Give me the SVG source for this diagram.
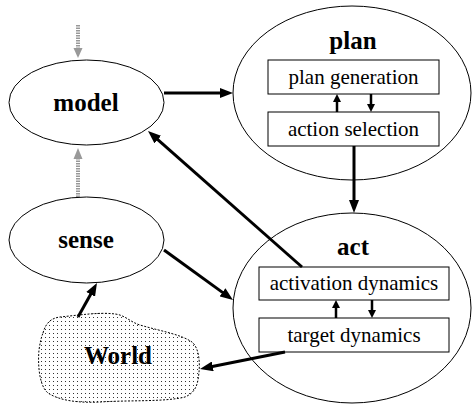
<svg xmlns="http://www.w3.org/2000/svg" width="474" height="407" viewBox="0 0 474 407">
<style>
.node{fill:#fff;stroke:#000;stroke-width:1}
.box{fill:#fff;stroke:#000;stroke-width:1}
.title{font-weight:bold;font-size:25px;text-anchor:middle;fill:#000}
.lbl{font-size:21px;text-anchor:middle;fill:#000}
.big{stroke:#000;stroke-width:3;fill:none;marker-end:url(#ah)}
.small{stroke:#000;stroke-width:2.5;fill:none;marker-end:url(#sh)}
.gray{stroke:#999;stroke-width:4;stroke-dasharray:1.5 1;fill:none}
</style>
<defs>
<marker id="ah" markerUnits="userSpaceOnUse" markerWidth="14" markerHeight="10" refX="3" refY="5" orient="auto">
<path d="M0,0 L13,5 L0,10 z" fill="#000"/>
</marker>
<marker id="sh" markerUnits="userSpaceOnUse" markerWidth="10" markerHeight="9" refX="2" refY="4" orient="auto">
<path d="M0,0 L8,4 L0,8 z" fill="#000"/>
</marker>
<pattern id="dots" width="4" height="4" patternUnits="userSpaceOnUse">
<rect width="4" height="4" fill="#fff"/>
<rect x="1" y="1" width="1" height="1" fill="#333"/>
</pattern>
</defs>
<g font-family="'Liberation Serif', 'Times New Roman', 'DejaVu Serif', serif">
<g id="world">
<path d="M43,333 C46,322 52,318 60,317 C80,315 100,312 115,314 C125,315 130,322 140,325 C160,331 180,334 192,342 C199,348 200,362 199,372 C198,382 197,392 185,397 C165,402 130,400 100,402 C80,403 60,401 48,393 C38,385 38,360 39,350 C40,343 41,338 43,333 Z" fill="url(#dots)" stroke="#000" stroke-width="1" stroke-dasharray="2 1.5"/>
<text class="title" x="118" y="364">World</text>
</g>
<g id="model">
<ellipse class="node" cx="86.5" cy="102.5" rx="77.5" ry="42.5"/>
<text class="title" x="86" y="111">model</text>
</g>
<g id="sense">
<ellipse class="node" cx="86.5" cy="240" rx="77.5" ry="43"/>
<text class="title" x="86" y="248">sense</text>
</g>
<g id="plan">
<ellipse class="node" cx="352" cy="93" rx="119" ry="87"/>
<text class="title" x="353" y="49">plan</text>
<g id="plan-generation">
<rect class="box" x="268" y="60" width="171" height="34"/>
<text class="lbl" x="353.5" y="84">plan generation</text>
</g>
<g id="action-selection">
<rect class="box" x="268" y="112" width="171" height="34"/>
<text class="lbl" x="353.5" y="136">action selection</text>
</g>
</g>
<g id="act">
<ellipse class="node" cx="352" cy="308" rx="119" ry="95"/>
<text class="title" x="353" y="255">act</text>
<g id="activation-dynamics">
<rect class="box" x="259" y="267" width="190" height="33"/>
<text class="lbl" x="354" y="290">activation dynamics</text>
</g>
<g id="target-dynamics">
<rect class="box" x="259" y="318" width="190" height="34"/>
<text class="lbl" x="354" y="342">target dynamics</text>
</g>
</g>
</g>
<g id="connectors">
<line class="gray" x1="78" y1="25" x2="78" y2="49"/>
<path d="M73.5,48 L82.5,48 L78,58 z" fill="#999"/>
<line class="gray" x1="78" y1="197" x2="78" y2="158"/>
<path d="M73.5,159 L82.5,159 L78,148 z" fill="#999"/>
<line class="big" x1="164" y1="93" x2="223" y2="93"/>
<line class="big" x1="302" y1="267" x2="155.5" y2="137.6"/>
<line class="big" x1="164" y1="250" x2="224.9" y2="294.1"/>
<line class="big" x1="78" y1="317" x2="92.1" y2="291.7"/>
<line class="big" x1="285" y1="352" x2="209.8" y2="367"/>
<line class="big" x1="354" y1="146" x2="354" y2="203"/>
<line class="small" x1="337" y1="112" x2="337" y2="100"/>
<line class="small" x1="371" y1="94" x2="371" y2="106"/>
<line class="small" x1="336" y1="318" x2="336" y2="306"/>
<line class="small" x1="372" y1="300" x2="372" y2="312"/>
</g>
</svg>
